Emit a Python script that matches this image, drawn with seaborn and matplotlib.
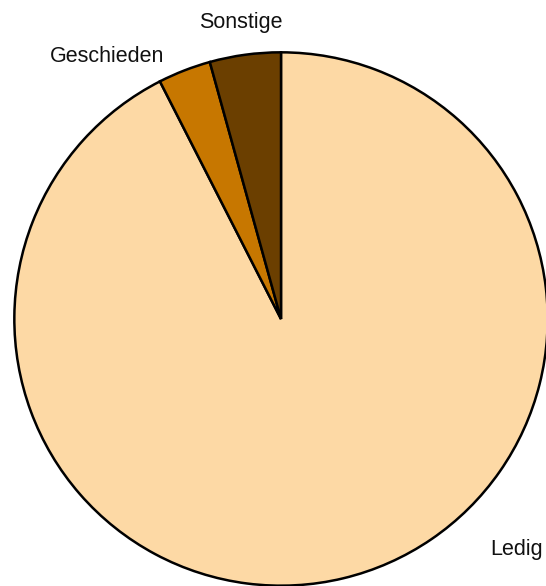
import matplotlib
matplotlib.use('Agg')
import matplotlib.pyplot as plt
import seaborn as sns

# Familienstand
categories = ['Ledig', 'Geschieden', 'Sonstige']
shares = [92.5, 3.2, 4.3]
colors = ['#FDD9A5', '#C77700', '#6B3F00']

# label baseline positions (data coords, pie radius = 1)
label_pos = [(0.885, -0.885), (-0.651, 0.962), (-0.149, 1.093)]

sns.set_theme(style='white')
plt.rcParams['font.family'] = ['Liberation Sans', 'DejaVu Sans']

fig = plt.figure(figsize=(5.46, 5.86), dpi=100)
ax = fig.add_axes([13 / 546, -1 / 586, 536 / 546, 536 / 586])

wedges, _ = ax.pie(
    shares,
    colors=sns.color_palette(colors),
    startangle=90,
    counterclock=False,
    wedgeprops={'edgecolor': 'black', 'linewidth': 1.8},
)

for name, (x, y) in zip(categories, label_pos):
    ax.text(x, y, name, ha='center', va='baseline', fontsize=15.5, color='#111111')

ax.set_xlim(-1.005, 1.005)
ax.set_ylim(-1.005, 1.005)
ax.set_aspect('equal')
ax.axis('off')

fig.savefig('out.png', dpi=100)
